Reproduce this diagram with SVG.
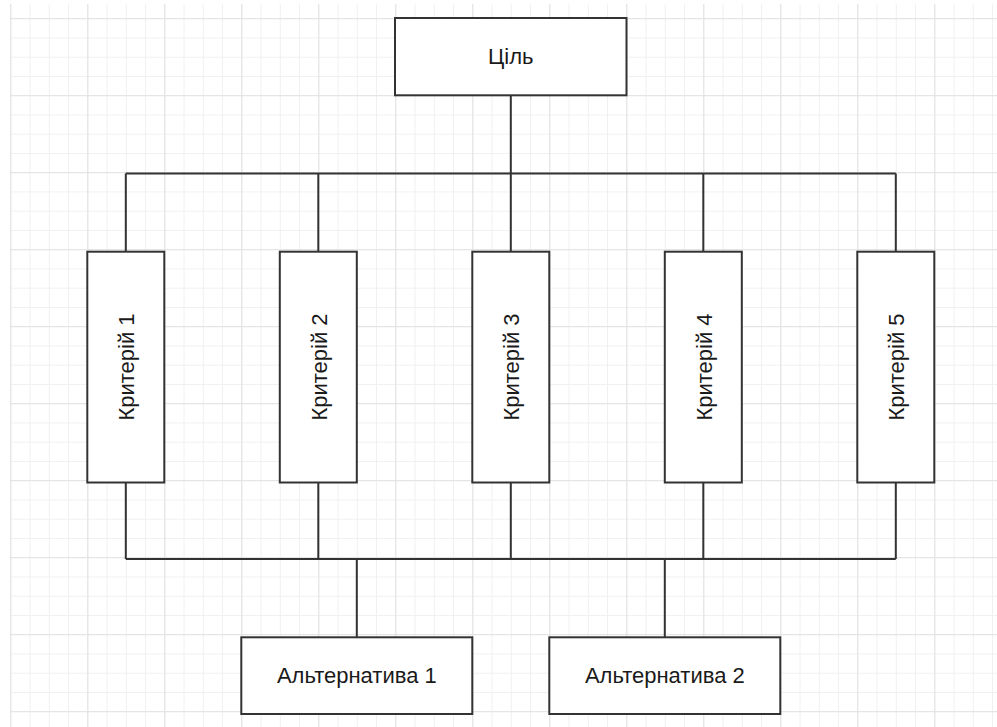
<svg xmlns="http://www.w3.org/2000/svg" width="997" height="727" viewBox="0 0 997 727">
  <defs>
    <pattern id="minor" patternUnits="userSpaceOnUse" x="10.3" y="18.2" width="19.25" height="19.25">
      <path d="M0.5 0V19.25M0 0.5H19.25" stroke="#f0f0f0" stroke-width="1" fill="none"/>
    </pattern>
    <pattern id="major" patternUnits="userSpaceOnUse" x="10.3" y="18.2" width="77" height="77">
      <path d="M0.5 0V77M0 0.5H77" stroke="#e2e2e2" stroke-width="1" fill="none"/>
    </pattern>
  </defs>
  <style>
    .box { fill: #ffffff; stroke: #333333; stroke-width: 2; }
    .lbl { font-family: "Liberation Sans", Arial, sans-serif; font-size: 22px; fill: #1a1a1a; text-anchor: middle; dominant-baseline: central; }
    .wire { stroke: #333333; stroke-width: 2; fill: none; }
  </style>
  <rect x="0" y="0" width="997" height="727" fill="#ffffff"/>
  <rect x="10" y="4" width="987" height="723" fill="url(#minor)"/>
  <rect x="10" y="4" width="987" height="723" fill="url(#major)"/>

  <g id="connectors">
    <path class="wire" d="M510.8 95.3V173.5M125.8 173.5H895.8M125.8 173.5V251.7M318.3 173.5V251.7M510.8 173.5V251.7M703.3 173.5V251.7M895.8 173.5V251.7"/>
    <path class="wire" d="M125.8 482.5V559M318.3 482.5V559M510.8 482.5V559M703.3 482.5V559M895.8 482.5V559M125.8 559H895.8M356.8 559V637.3M664.8 559V637.3"/>
  </g>

  <g id="goal">
    <rect class="box" x="395" y="18" width="231.5" height="77.3"/>
    <text class="lbl" x="510.8" y="56.5">Ціль</text>
  </g>

  <g id="crit1">
    <rect class="box" x="87.3" y="251.7" width="77" height="230.8"/>
    <text class="lbl" transform="translate(126.5 367) rotate(-90)">Критерій 1</text>
  </g>
  <g id="crit2">
    <rect class="box" x="279.8" y="251.7" width="77" height="230.8"/>
    <text class="lbl" transform="translate(319 367) rotate(-90)">Критерій 2</text>
  </g>
  <g id="crit3">
    <rect class="box" x="472.3" y="251.7" width="77" height="230.8"/>
    <text class="lbl" transform="translate(511.5 367) rotate(-90)">Критерій 3</text>
  </g>
  <g id="crit4">
    <rect class="box" x="664.8" y="251.7" width="77" height="230.8"/>
    <text class="lbl" transform="translate(704 367) rotate(-90)">Критерій 4</text>
  </g>
  <g id="crit5">
    <rect class="box" x="857.3" y="251.7" width="77" height="230.8"/>
    <text class="lbl" transform="translate(896.5 367) rotate(-90)">Критерій 5</text>
  </g>

  <g id="alt1">
    <rect class="box" x="241.3" y="637.3" width="231" height="76.7"/>
    <text class="lbl" x="356.8" y="675.5">Альтернатива 1</text>
  </g>
  <g id="alt2">
    <rect class="box" x="549.3" y="637.3" width="231" height="76.7"/>
    <text class="lbl" x="664.8" y="675.5">Альтернатива 2</text>
  </g>
</svg>
